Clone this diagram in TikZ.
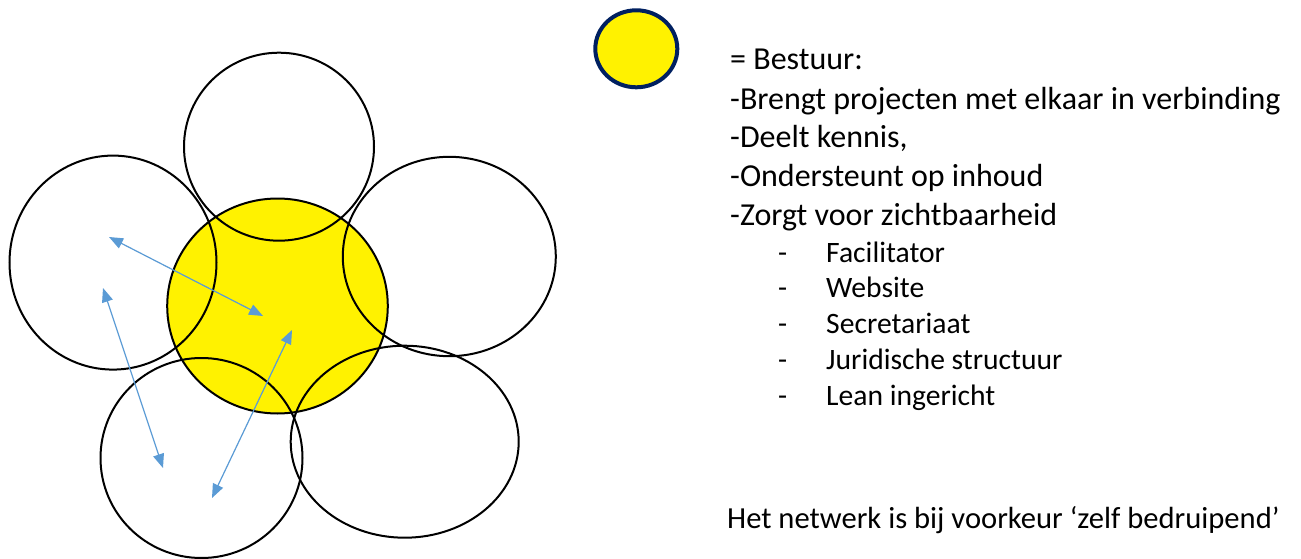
\documentclass[tikz,border=0pt]{standalone}
\usepackage{fontspec}
\setmainfont{Carlito}
\usetikzlibrary{arrows.meta, shapes.geometric}
\definecolor{linkblue}{HTML}{5B9BD5}
\definecolor{boardnavy}{HTML}{002060}
\begin{document}
\begin{tikzpicture}[x=1pt, y=-1pt, >={Triangle[length=14pt, width=11pt]},
    petal/.style={draw=black, line width=2pt},
    link/.style={<->, draw=linkblue, fill=linkblue, line width=1.2pt},
    txt/.style={anchor=base west, inner sep=0pt, font=\fontsize{32}{38}\selectfont},
    subtxt/.style={txt, font=\fontsize{29.6}{35}\selectfont}]
  \useasboundingbox (0,0) rectangle (1301,559);

  % Core fill
  \fill[yellow] (277.5,306) ellipse [x radius=110.3pt, y radius=107.5pt];

  % Circles
  \draw[petal] (277.5,306) ellipse [x radius=110.3pt, y radius=107.5pt];
  \draw[petal] (279,146.7) ellipse [x radius=95pt, y radius=94pt];
  \draw[petal] (113,262.6) ellipse [x radius=103.5pt, y radius=107pt];
  \draw[petal] (449.3,256.5) ellipse [x radius=106.5pt, y radius=99.7pt];
  \draw[petal] (201.5,458) ellipse [x radius=101pt, y radius=100pt];
  \draw[petal] (404.7,441.7) ellipse [x radius=114pt, y radius=96pt];

  % Arrow ends
  \coordinate (l1) at (109,237);
  \coordinate (c1) at (263,316);
  \coordinate (l2) at (103,288);
  \coordinate (b2) at (163,468);
  \coordinate (c3) at (292,330);
  \coordinate (b3) at (212,498);

  % Arrows
  \draw[link] (l1) -- (c1);
  \draw[link] (l2) -- (b2);
  \draw[link] (c3) -- (b3);

  % Legend
  \node[draw=boardnavy, line width=4pt, fill=yellow, ellipse, inner sep=0pt,
        minimum width=82pt, minimum height=77pt] (legend) at (636.3,48.8) {};
  \node[txt] (bestuur) at (730,70) {= Bestuur:};
  \node[txt] (brengt) at (730,109.5) {-Brengt projecten met elkaar in verbinding};
  \node[txt] (deelt) at (730,148) {-Deelt kennis,};
  \node[txt] (steunt) at (730,186.5) {-Ondersteunt op inhoud};
  \node[txt] (zorgt) at (730,225) {-Zorgt voor zichtbaarheid};
  \foreach \task [count=\i] in {Facilitator, Website, Secretariaat,
      Juridische structuur, Lean ingericht} {
    \node[subtxt] (dash\i) at (778,226.3+35.75*\i) {-};
    \node[subtxt] (task\i) at (826,226.3+35.75*\i) {\task};
  }
  \node[txt, font=\fontsize{30.6}{36}\selectfont] (netwerk) at (727,528)
    {Het netwerk is bij voorkeur ‘zelf bedruipend’};
\end{tikzpicture}
\end{document}
